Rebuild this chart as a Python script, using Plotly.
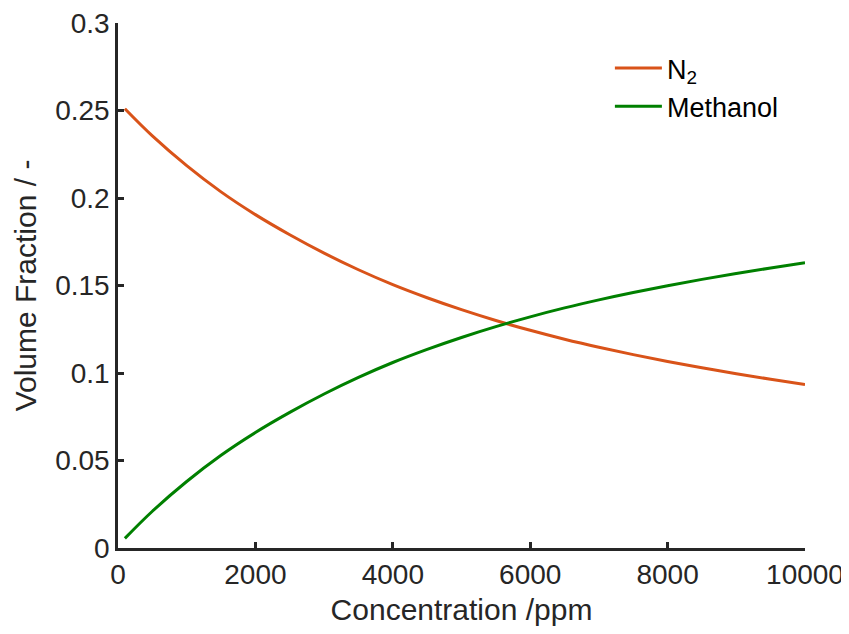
import plotly.graph_objects as go

concentration = [100, 500, 1000, 1500, 2000, 2500, 3000, 3500, 4000, 4500, 5000,
                 5500, 6000, 6500, 7000, 7500, 8000, 8500, 9000, 9500, 10000]
n2_fraction = [0.251, 0.2355, 0.2185, 0.2035, 0.1905, 0.1790, 0.1685, 0.1590, 0.1505,
               0.1430, 0.1362, 0.1300, 0.1244, 0.1193, 0.1147, 0.1105, 0.1066,
               0.1030, 0.0996, 0.0964, 0.0934]
methanol_fraction = [0.0055, 0.0210, 0.0380, 0.0530, 0.0660, 0.0775, 0.0880, 0.0975,
                     0.1060, 0.1135, 0.1203, 0.1265, 0.1321, 0.1372, 0.1418, 0.1460,
                     0.1499, 0.1535, 0.1569, 0.1600, 0.1630]
x_ticks = [0, 2000, 4000, 6000, 8000, 10000]
y_ticks = [0, 0.05, 0.1, 0.15, 0.2, 0.25, 0.3]
y_tick_labels = ["0", "0.05", "0.1", "0.15", "0.2", "0.25", "0.3"]

AX = "#262626"
FONT = "Liberation Sans, Arial, Helvetica, sans-serif"

fig = go.Figure()
fig.add_trace(go.Scatter(x=concentration, y=n2_fraction, mode="lines", name="N<sub>2</sub>",
                         line=dict(color="#D95319", width=3, shape="spline")))
fig.add_trace(go.Scatter(x=concentration, y=methanol_fraction, mode="lines", name="Methanol",
                         line=dict(color="#008000", width=3, shape="spline")))

axis_common = dict(showline=True, linecolor=AX, linewidth=2.5, mirror=False,
                   ticks="inside", ticklen=6, tickwidth=2.5, tickcolor=AX,
                   showgrid=False, zeroline=False, automargin=False,
                   ticklabeloverflow="allow",
                   tickfont=dict(family=FONT, size=28, color=AX))

fig.update_layout(
    width=841, height=626,
    margin=dict(l=110, r=44, t=15, b=86),
    paper_bgcolor="white", plot_bgcolor="white",
    font=dict(family=FONT, color=AX),
    xaxis=dict(range=[0, 10000], tickvals=x_ticks, ticktext=[str(v) for v in x_ticks],
               title=dict(text="Concentration /ppm", font=dict(family=FONT, size=30, color=AX),
                          standoff=10),
               **axis_common),
    yaxis=dict(range=[0, 0.3], tickvals=y_ticks, ticktext=y_tick_labels,
               title=dict(text="Volume Fraction / -", font=dict(family=FONT, size=30, color=AX),
                          standoff=10),
               **axis_common),
    legend=dict(x=0.716, y=0.96, xanchor="left", yanchor="top",
                font=dict(family=FONT, size=27, color="black"),
                itemwidth=47,
                bgcolor="rgba(255,255,255,0)", borderwidth=0, tracegroupgap=2),
    showlegend=True,
)

fig.write_html("out.html")
